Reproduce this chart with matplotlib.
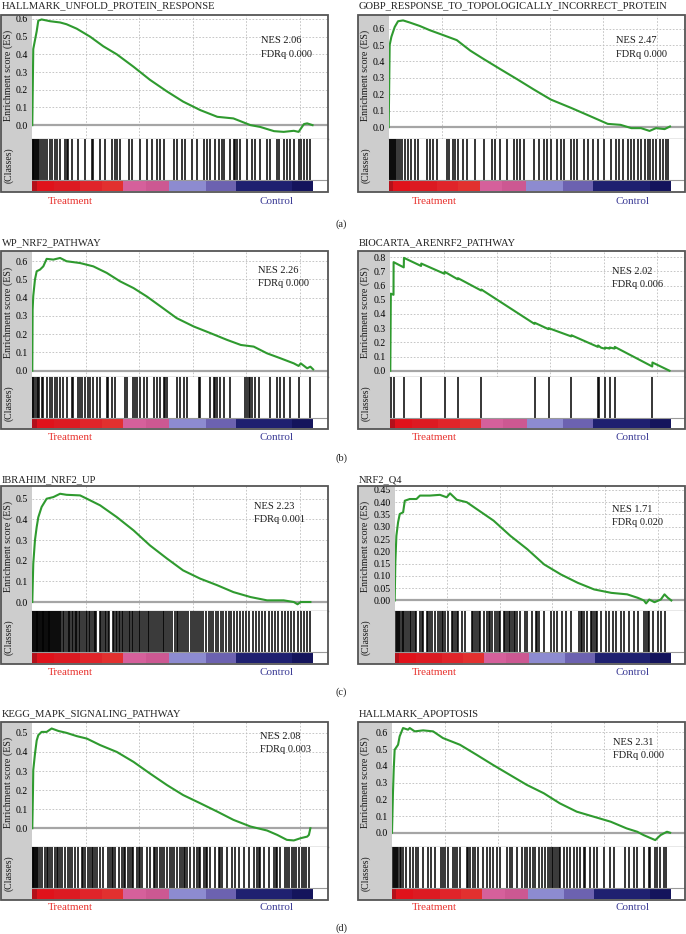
import matplotlib.pyplot as plt
from matplotlib.patches import Rectangle

plt.rcParams['font.family'] = ['Liberation Serif', 'DejaVu Serif']

# gene-set names and stats
titles = ['HALLMARK_UNFOLD_PROTEIN_RESPONSE', 'GOBP_RESPONSE_TO_TOPOLOGICALLY_INCORRECT_PROTEIN',
          'WP_NRF2_PATHWAY', 'BIOCARTA_ARENRF2_PATHWAY',
          'IBRAHIM_NRF2_UP', 'NRF2_Q4',
          'KEGG_MAPK_SIGNALING_PATHWAY', 'HALLMARK_APOPTOSIS']
nes = ['2.06', '2.47', '2.26', '2.02', '2.23', '1.71', '2.08', '2.31']
fdrq = ['0.000', '0.000', '0.000', '0.006', '0.001', '0.020', '0.003', '0.000']
panel_tags = ['(a)', '(b)', '(c)', '(d)']

# running enrichment score, rank in thousands of genes
unfold_rank = [0, 0.09, 0.25, 0.41, 0.56, 0.87, 1.66, 2.6, 3.2, 4.15, 5.4, 6.65, 7.9, 9.46, 11.0, 12.6,
               14.1, 15.7, 17.3, 18.8, 20.4, 21.3, 22.6, 23.5, 24.45, 24.9, 25.4, 25.7, 26.2]
unfold_es = [0, 0.43, 0.48, 0.53, 0.59, 0.597, 0.587, 0.58, 0.57, 0.545, 0.50, 0.445, 0.40, 0.33, 0.256,
             0.19, 0.133, 0.085, 0.047, 0.038, 0.0, -0.01, -0.034, -0.038, -0.032, -0.038, 0.006, 0.01, 0.0]

topo_rank = [0, 0.09, 0.25, 0.56, 0.87, 1.34, 1.97, 2.9, 3.84, 5.1, 6.34, 7.6, 8.84, 10.4, 11.96, 13.5,
             15.1, 17.0, 18.8, 20.4, 21.6, 22.6, 23.5, 24.3, 24.9, 25.7, 26.2]
topo_es = [0, 0.50, 0.55, 0.61, 0.645, 0.65, 0.637, 0.616, 0.59, 0.56, 0.53, 0.466, 0.415, 0.353, 0.292,
           0.23, 0.168, 0.117, 0.066, 0.02, 0.014, -0.006, -0.006, -0.023, -0.006, -0.012, 0.004]

wp_rank = [0, 0.03, 0.09, 0.25, 0.41, 0.72, 1.03, 1.34, 1.97, 2.6, 3.2, 4.47, 5.7, 6.96, 8.2, 9.46, 10.7,
           12.0, 13.5, 15.1, 16.65, 18.2, 19.5, 20.7, 21.95, 23.2, 24.45, 24.9, 25.1, 25.7, 26.0, 26.26]
wp_es = [0, 0.334, 0.41, 0.5, 0.545, 0.554, 0.572, 0.613, 0.609, 0.618, 0.6, 0.59, 0.572, 0.536, 0.49,
         0.453, 0.407, 0.352, 0.288, 0.242, 0.206, 0.169, 0.141, 0.132, 0.095, 0.068, 0.04, 0.026, 0.04,
         0.013, 0.022, 0.007]

bio_rank = [0, 0.05, 0.3, 0.31, 1.26, 1.28, 2.88, 2.9, 5.07, 5.09, 6.32, 6.34, 8.51, 8.53, 13.5, 13.52,
            14.81, 14.83, 16.94, 16.96, 19.44, 19.46, 19.75, 20.12, 20.14, 20.53, 20.55, 21.0, 21.02,
            24.53, 24.55, 26.15]
bio_es = [0, 0.543, 0.535, 0.765, 0.728, 0.795, 0.738, 0.755, 0.683, 0.697, 0.644, 0.652, 0.565, 0.572,
          0.33, 0.338, 0.293, 0.3, 0.242, 0.25, 0.168, 0.178, 0.162, 0.155, 0.163, 0.156, 0.164, 0.156,
          0.168, 0.03, 0.058, 0.0]

ibr_rank = [0, 0.09, 0.25, 0.41, 0.56, 0.87, 1.34, 1.97, 2.6, 3.2, 4.47, 5.1, 6.34, 7.9, 9.46, 11.0, 12.6,
            14.1, 15.7, 17.3, 18.8, 20.4, 21.95, 23.5, 24.45, 24.8, 25.1, 26.0]
ibr_es = [0, 0.185, 0.3, 0.363, 0.41, 0.46, 0.5, 0.508, 0.524, 0.519, 0.516, 0.5, 0.468, 0.411, 0.347,
          0.274, 0.21, 0.153, 0.113, 0.081, 0.048, 0.024, 0.008, 0.008, 0.0, -0.011, 0.0, 0.0]

q4_rank = [0, 0.06, 0.16, 0.32, 0.48, 0.8, 0.96, 1.43, 2.07, 2.4, 3.35, 4.3, 4.94, 5.26, 5.9, 6.85, 7.8,
           9.4, 11.0, 12.6, 14.2, 15.8, 17.4, 18.96, 20.6, 22.1, 23.1, 23.7, 23.9, 24.2, 24.7, 25.3,
           25.65, 25.97, 26.3]
q4_es = [0, 0.154, 0.263, 0.318, 0.352, 0.359, 0.406, 0.413, 0.413, 0.427, 0.427, 0.43, 0.42, 0.436,
         0.41, 0.4, 0.372, 0.325, 0.263, 0.209, 0.147, 0.106, 0.072, 0.045, 0.031, 0.025, 0.011, 0.0,
         -0.012, 0.004, -0.007, 0.004, 0.025, 0.011, 0.0]

kegg_rank = [0, 0.06, 0.09, 0.25, 0.41, 0.56, 0.87, 1.34, 1.81, 2.44, 3.2, 4.15, 5.1, 6.34, 7.9, 9.46,
             11.0, 12.6, 14.1, 15.7, 17.3, 18.8, 20.4, 21.95, 22.9, 23.8, 24.45, 25.1, 25.7, 25.86, 26.0]
kegg_es = [0, 0.183, 0.305, 0.39, 0.46, 0.488, 0.505, 0.505, 0.523, 0.51, 0.5, 0.483, 0.47, 0.436, 0.4,
           0.348, 0.287, 0.226, 0.174, 0.131, 0.087, 0.044, 0.009, -0.012, -0.035, -0.061, -0.064,
           -0.052, -0.044, -0.035, 0.0]

apo_rank = [0, 0.09, 0.16, 0.25, 0.57, 0.72, 1.04, 1.51, 1.67, 2.14, 2.93, 3.87, 4.8, 6.4, 7.97, 9.5,
            11.1, 12.7, 14.3, 15.8, 17.4, 19.0, 20.6, 22.1, 23.1, 23.7, 24.8, 25.3, 25.9, 26.2]
apo_es = [0, 0.236, 0.376, 0.496, 0.526, 0.576, 0.626, 0.616, 0.626, 0.606, 0.612, 0.606, 0.566, 0.526,
          0.466, 0.406, 0.346, 0.286, 0.236, 0.176, 0.126, 0.096, 0.066, 0.026, 0.006, -0.014, -0.044,
          -0.014, 0.006, 0.0]

# positions of gene-set members in the ranked list (thousands)
unfold_hits = [0.03, 0.09, 0.16, 0.25, 0.33, 0.41, 0.5, 0.66, 0.78, 1.03, 1.19, 1.34, 1.66, 1.81, 2.12,
               2.34, 2.59, 3.06, 3.22, 3.37, 3.69, 4.31, 4.93, 5.56, 5.72, 6.34, 6.81, 7.43, 7.75, 7.9,
               8.21, 9.0, 9.3, 10.09, 10.71, 11.18, 11.65, 11.96, 12.27, 13.21, 13.52, 13.99, 14.3,
               14.93, 15.4, 16.02, 16.33, 16.65, 17.11, 17.43, 17.74, 17.89, 18.52, 18.83, 18.99, 19.14,
               19.46, 20.08, 20.55, 20.86, 21.33, 21.95, 22.27, 22.89, 23.05, 23.52, 23.83, 24.14,
               24.45, 24.92, 25.08, 25.39, 25.64, 26.01]
topo_hits = [0.03, 0.09, 0.19, 0.28, 0.37, 0.47, 0.56, 0.72, 0.87, 1.09, 1.28, 1.5, 1.81, 2.12, 2.44,
             2.75, 3.53, 3.84, 4.15, 4.47, 5.4, 5.65, 6.03, 6.18, 6.5, 6.96, 7.28, 8.06, 8.84, 9.62,
             9.93, 10.4, 11.02, 11.65, 11.96, 12.27, 12.59, 13.52, 13.99, 14.46, 14.77, 15.08, 15.71,
             16.02, 16.33, 16.96, 17.27, 17.58, 18.21, 18.52, 18.99, 19.46, 20.08, 20.71, 21.17,
             21.49, 21.8, 22.27, 22.58, 22.89, 23.2, 23.52, 23.83, 24.14, 24.3, 24.61, 24.92, 25.23,
             25.55, 25.86, 26.01]
wp_hits = [0.03, 0.09, 0.25, 0.41, 0.56, 0.66, 0.87, 1.03, 1.34, 1.66, 1.81, 2.12, 2.28, 2.59, 2.9,
           3.22, 3.69, 3.84, 4.31, 4.47, 4.62, 4.93, 5.25, 5.4, 5.72, 6.03, 6.34, 6.96, 7.12, 7.43,
           7.75, 8.68, 8.84, 9.46, 9.62, 9.77, 10.09, 10.4, 10.71, 11.34, 11.65, 11.96, 12.27, 12.43,
           12.59, 13.52, 13.83, 14.15, 14.46, 15.55, 15.71, 16.65, 16.96, 17.11, 17.27, 17.58, 17.89,
           18.52, 19.92, 20.08, 20.24, 20.39, 20.55, 20.86, 21.17, 22.27, 22.89, 23.2, 23.52, 24.14,
           24.92, 26.01]
bio_hits = [0.05, 0.31, 1.28, 2.9, 5.09, 6.34, 8.53, 13.52, 14.83, 16.96, 19.46, 19.55, 20.14, 20.55,
            21.02, 24.55]
ibr_hits = [0.0, 0.08, 0.16, 0.24, 0.32, 0.4, 0.48, 0.56, 0.64, 0.72, 0.8, 0.88, 0.96, 1.04, 1.12, 1.2,
            1.28, 1.36, 1.44, 1.52, 1.6, 1.68, 1.76, 1.84, 1.92, 2.0, 2.1, 2.2, 2.3, 2.4, 2.5, 2.6, 2.7,
            2.9, 3.0, 3.15, 3.3, 3.4, 3.55, 3.7, 3.8, 3.95, 4.1, 4.2, 4.35, 4.5, 4.6, 4.85, 5.0, 5.15,
            5.3, 5.4, 5.6, 5.75, 5.85, 6.0, 6.3, 6.45, 6.6, 6.8, 6.9, 7.05, 7.2, 7.5, 7.6, 7.8, 7.95,
            8.1, 8.2, 8.35, 8.5, 8.7, 8.85, 9.0, 9.1, 9.3, 9.45, 9.6, 9.8, 9.95, 10.1, 10.3, 10.45,
            10.6, 10.8, 10.95, 11.1, 11.3, 11.5, 11.65, 11.8, 12.0, 12.2, 12.35, 12.5, 12.7, 12.9, 13.1,
            13.3, 13.5, 13.65, 13.8, 14.0, 14.2, 14.4, 14.6, 14.8, 15.0, 15.2, 15.4, 15.6, 15.8, 16.0,
            16.25, 16.5, 16.7, 16.9, 17.15, 17.4, 17.6, 17.85, 18.1, 18.35, 18.6, 18.85, 19.1, 19.4,
            19.7, 20.0, 20.3, 20.6, 20.9, 21.2, 21.5, 21.8, 22.1, 22.4, 22.7, 23.0, 23.3, 23.6, 23.9,
            24.2, 24.5, 24.8, 25.1, 25.4, 25.7, 26.0]
q4_hits = [0.1, 0.19, 0.29, 0.41, 0.54, 0.67, 0.8, 0.92, 1.12, 1.27, 1.43, 1.59, 1.75, 1.91, 2.07, 2.39,
           2.55, 2.71, 3.03, 3.19, 3.35, 3.51, 3.82, 4.14, 4.3, 4.46, 4.62, 4.78, 5.1, 5.42, 5.58,
           5.74, 5.9, 6.06, 6.37, 6.69, 7.33, 7.49, 7.65, 7.81, 7.97, 8.13, 8.45, 8.76, 8.92, 9.08,
           9.24, 9.56, 9.72, 9.88, 10.04, 10.36, 10.52, 10.68, 10.84, 11.0, 11.15, 11.31, 11.47,
           11.63, 11.95, 12.43, 12.59, 13.07, 13.39, 13.55, 13.7, 14.18, 14.82, 15.14, 15.46, 15.94,
           16.25, 16.73, 17.53, 17.69, 17.85, 18.01, 18.32, 18.64, 18.8, 18.96, 19.12, 19.28, 19.6,
           20.08, 20.4, 20.72, 21.03, 21.51, 21.83, 22.31, 22.79, 23.11, 23.74, 23.9, 24.06, 24.22,
           24.54, 25.02, 25.34, 25.66]
kegg_hits = [0.02, 0.09, 0.19, 0.28, 0.37, 0.47, 0.56, 0.72, 0.87, 1.19, 1.34, 1.5, 1.66, 1.81, 2.12,
             2.28, 2.44, 2.59, 2.75, 3.06, 3.37, 3.53, 3.69, 4.0, 4.31, 4.62, 4.78, 4.93, 5.25, 5.4,
             5.56, 5.72, 5.87, 6.03, 6.34, 6.65, 7.12, 7.28, 7.43, 7.59, 7.75, 8.06, 8.37, 8.53, 8.68,
             8.99, 9.15, 9.31, 9.46, 9.77, 9.93, 10.09, 10.24, 10.71, 11.02, 11.34, 11.49, 11.65,
             11.96, 12.12, 12.27, 12.59, 12.9, 13.05, 13.21, 13.52, 13.83, 13.99, 14.15, 14.3, 14.46,
             14.77, 15.08, 15.4, 15.55, 15.71, 16.08, 16.21, 16.33, 16.65, 17.11, 17.43, 17.58, 17.74,
             18.21, 18.68, 18.99, 19.3, 19.77, 20.24, 20.71, 21.02, 21.17, 21.33, 21.64, 22.11, 22.58,
             22.74, 22.89, 23.2, 23.67, 23.83, 23.99, 24.3, 24.45, 24.61, 24.92, 25.23, 25.39, 25.55,
             25.86]
apo_hits = [0.09, 0.19, 0.28, 0.38, 0.47, 0.57, 0.72, 0.88, 1.04, 1.35, 1.67, 1.98, 2.3, 2.46, 2.93,
            3.4, 3.72, 4.03, 4.66, 4.82, 4.98, 5.29, 5.76, 5.92, 6.08, 6.39, 7.02, 7.18, 7.34, 7.65,
            7.81, 8.13, 8.6, 8.91, 9.23, 9.54, 9.86, 10.17, 10.8, 11.12, 11.28, 11.75, 12.22, 12.54,
            12.69, 13.01, 13.32, 13.48, 13.8, 14.11, 14.43, 14.74, 14.9, 15.06, 15.21, 15.37, 15.53,
            15.69, 15.84, 16.16, 16.47, 16.79, 17.1, 17.42, 17.73, 18.05, 18.21, 18.68, 18.99, 19.31,
            19.94, 20.57, 20.88, 21.99, 22.3, 22.77, 23.09, 23.72, 24.19, 24.35, 24.82, 24.98, 25.29,
            25.61, 25.77]

# ranked-list metric colour bar (same list for every panel)
bar_edges = [0, 0.4, 2.0, 4.5, 6.5, 8.5, 10.6, 12.8, 16.2, 19.0, 24.3, 26.25]
bar_colors = ['#b3101a', '#e0121b', '#dc1a22', '#e0242a', '#e2302f', '#d5609b', '#cc5892',
              '#8d8bd0', '#6c62b0', '#1f2070', '#14145c']

yticks = [[0.0, 0.1, 0.2, 0.3, 0.4, 0.5, 0.6], [0.0, 0.1, 0.2, 0.3, 0.4, 0.5, 0.6],
          [0.0, 0.1, 0.2, 0.3, 0.4, 0.5, 0.6], [0.0, 0.1, 0.2, 0.3, 0.4, 0.5, 0.6, 0.7, 0.8],
          [0.0, 0.1, 0.2, 0.3, 0.4, 0.5],
          [0.0, 0.05, 0.1, 0.15, 0.2, 0.25, 0.3, 0.35, 0.4, 0.45],
          [0.0, 0.1, 0.2, 0.3, 0.4, 0.5], [0.0, 0.1, 0.2, 0.3, 0.4, 0.5, 0.6]]

curves_rank = [unfold_rank, topo_rank, wp_rank, bio_rank, ibr_rank, q4_rank, kegg_rank, apo_rank]
curves_es = [unfold_es, topo_es, wp_es, bio_es, ibr_es, q4_es, kegg_es, apo_es]
hits = [unfold_hits, topo_hits, wp_hits, bio_hits, ibr_hits, q4_hits, kegg_hits, apo_hits]

# ---- layout (pixels) ----
W, H = 686, 934
frame_x = [(1, 327.5), (358, 685)]
rows = [(14.5, 139.3, 191.5), (251.2, 376.7, 429), (485.5, 611.3, 663.5), (722, 847.3, 899.5)]
plot_x0 = [32.3, 388.7, 32.3, 390.3, 32.3, 394.7, 32.3, 392.0]
ylims = [(-0.08, 0.625), (-0.074, 0.686), (-0.033, 0.655), (-0.042, 0.842),
         (-0.045, 0.564), (-0.044, 0.468), (-0.10, 0.557), (-0.087, 0.662)]
nes_xy = [(0.776, 0.79), (0.767, 0.79), (0.766, 0.848), (0.752, 0.84),
          (0.75, 0.833), (0.75, 0.81), (0.773, 0.888), (0.754, 0.84)]
title_y = [5.8, 243, 479.5, 713.5]
label_y = [201, 437.5, 672.5, 907.5]
tag_y = [224, 458, 692, 928]
XMAX = 27.6
BAR_H = 10.5

fig = plt.figure(figsize=(W / 100, H / 100), dpi=100)


def px_axes(x0, y0, x1, y1):
    return fig.add_axes([x0 / W, 1 - y1 / H, (x1 - x0) / W, (y1 - y0) / H])


def px_text(x, y, s, **kw):
    fig.text(x / W, 1 - y / H, s, **kw)


for i in range(8):
    col, row = i % 2, i // 2
    fx0, fx1 = frame_x[col]
    ft, ct, fb = rows[row]
    x0 = plot_x0[i]

    # grey frame background
    bg = px_axes(fx0, ft, fx1, fb)
    bg.set_facecolor('#cdcdcd')
    bg.set_xticks([])
    bg.set_yticks([])
    for s in bg.spines.values():
        s.set_visible(False)

    # enrichment score part
    es = px_axes(x0, ft, fx1, ct)
    es.plot(curves_rank[i], curves_es[i], color='#2f9a2f', lw=1.5, zorder=3)
    es.axhline(0, color='#a5a5a5', lw=1.6, zorder=2)
    es.set_xlim(0, XMAX)
    es.set_ylim(*ylims[i])
    es.set_xticks([5, 10, 15, 20, 25])
    es.set_xticklabels([])
    fmt = '%.2f' if i == 5 else '%.1f'
    es.set_yticks(yticks[i])
    es.set_yticklabels([fmt % v for v in yticks[i]], fontsize=7)
    es.tick_params(length=0, pad=3)
    es.grid(True, color='#bdbdbd', lw=0.6, ls=(0, (2, 2)))
    for s in ('top', 'right', 'left'):
        es.spines[s].set_visible(False)
    es.spines['bottom'].set_color('#8c8c8c')
    es.spines['bottom'].set_linewidth(1.0)
    es.text(nes_xy[i][0], nes_xy[i][1], 'NES ' + nes[i], transform=es.transAxes,
            fontsize=7.5, va='center', color='#1a1a1a')
    es.text(nes_xy[i][0], nes_xy[i][1] - 0.107, 'FDRq ' + fdrq[i], transform=es.transAxes,
            fontsize=7.5, va='center', color='#1a1a1a')

    # hits + ranked-list colour bar
    cl = px_axes(x0, ct, fx1, fb)
    hgt = fb - ct
    cl.set_xlim(0, XMAX)
    cl.set_ylim(0, hgt)
    cl.vlines(hits[i], BAR_H + 1, hgt, color='black', lw=1.1)
    for a, b, c in zip(bar_edges[:-1], bar_edges[1:], bar_colors):
        cl.broken_barh([(a, b - a)], (1, BAR_H), facecolors=c, edgecolor='none')
    cl.axhline(BAR_H + 1, color='#9a9a9a', lw=0.8)
    cl.set_xticks([])
    cl.set_yticks([])
    for s in cl.spines.values():
        s.set_visible(False)

    fig.add_artist(Rectangle((fx0 / W, 1 - fb / H), (fx1 - fx0) / W, (fb - ft) / H,
                             transform=fig.transFigure, fill=False, ec='#555555', lw=1.3, zorder=10))

    px_text(fx0 + 7.5, (ft + ct) / 2 - 2, 'Enrichment score (ES)', rotation=90,
            ha='center', va='center', fontsize=7.2, color='#1a1a1a')
    px_text(fx0 + 7.5, (ct + fb) / 2, '(Classes)', rotation=90,
            ha='center', va='center', fontsize=7, color='#1a1a1a')
    px_text(fx0 + 1, title_y[row], titles[i], ha='left', va='center', fontsize=7.6, color='#222222')

    tx = [70, 434][col]
    cx = [277, 633][col]
    px_text(tx, label_y[row], 'Treatment', ha='center', va='center', fontsize=8, color='#e8322e')
    px_text(cx, label_y[row], 'Control', ha='center', va='center', fontsize=8, color='#3c3c96')

for r in range(4):
    px_text(341, tag_y[r], panel_tags[r], ha='center', va='center', fontsize=7.5, color='#222222')

fig.savefig('out.png', dpi=100)
